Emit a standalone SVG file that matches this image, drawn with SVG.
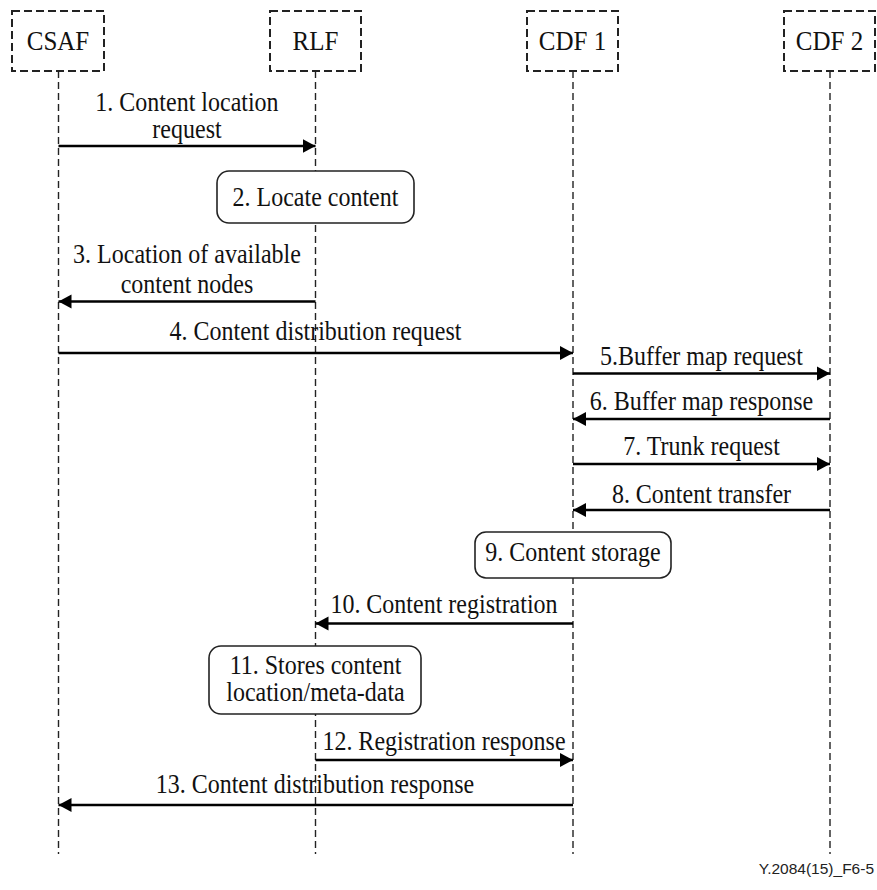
<svg xmlns="http://www.w3.org/2000/svg" width="877" height="890" viewBox="0 0 877 890">
  <style>
    .hdr { fill: #fff; stroke: #222; stroke-width: 2; stroke-dasharray: 8 4; }
    .life { stroke: #222; stroke-width: 1.4; stroke-dasharray: 7 4; fill: none; }
    .msg { stroke: #000; stroke-width: 2.4; fill: none; }
    .act { fill: #fff; stroke: #222; stroke-width: 1.6; }
    text { font-family: "Liberation Serif", "Times New Roman", serif; font-size: 24px; fill: #111; text-anchor: middle; }
    .name { font-size: 25px; }
    .foot { font-family: "Liberation Sans", Arial, sans-serif; font-size: 15.5px; text-anchor: end; fill: #222; }
  </style>
  <defs>
    <marker id="arrow" markerUnits="userSpaceOnUse" markerWidth="14" markerHeight="16" viewBox="0 0 14 16" refX="13" refY="8" orient="auto">
      <path d="M0,1 L13,8 L0,15 Z" fill="#000"/>
    </marker>
  </defs>

  <!-- lifelines -->
  <g id="lifelines">
    <line class="life" x1="58.5" y1="71" x2="58.5" y2="854"/>
    <line class="life" x1="315.5" y1="71" x2="315.5" y2="854"/>
    <line class="life" x1="573" y1="71" x2="573" y2="854"/>
    <line class="life" x1="830" y1="71" x2="830" y2="854"/>
  </g>

  <!-- participants -->
  <g id="csaf">
    <rect class="hdr" x="12" y="11" width="92" height="60"/>
    <text class="name" x="58" y="0" transform="translate(0,50) scale(1,1.06)">CSAF</text>
  </g>
  <g id="rlf">
    <rect class="hdr" x="270" y="11" width="91" height="60"/>
    <text class="name" x="315.5" y="0" transform="translate(0,50) scale(1,1.06)">RLF</text>
  </g>
  <g id="cdf1">
    <rect class="hdr" x="527" y="11" width="91" height="60"/>
    <text class="name" x="572.5" y="0" transform="translate(0,50) scale(1,1.06)">CDF 1</text>
  </g>
  <g id="cdf2">
    <rect class="hdr" x="784" y="11" width="91" height="60"/>
    <text class="name" x="829.5" y="0" transform="translate(0,50) scale(1,1.06)">CDF 2</text>
  </g>

  <!-- local actions -->
  <g id="locate">
    <rect class="act" x="217" y="171" width="197" height="52" rx="12"/>
    <text x="315.5" y="0" transform="translate(0,206) scale(1,1.1)">2. Locate content</text>
  </g>
  <g id="storage">
    <rect class="act" x="475" y="532" width="196" height="46" rx="11"/>
    <text x="573" y="0" transform="translate(0,561) scale(1,1.1)">9. Content storage</text>
  </g>
  <g id="stores">
    <rect class="act" x="209" y="646" width="212" height="68" rx="12"/>
    <text x="315.5" y="0" transform="translate(0,674) scale(1,1.1)">11. Stores content</text>
    <text x="315.5" y="0" transform="translate(0,701) scale(1,1.1)">location/meta-data</text>
  </g>

  <!-- messages -->
  <g id="connectors">
    <line class="msg" x1="58.5" y1="146" x2="315.5" y2="146" marker-end="url(#arrow)"/>
    <line class="msg" x1="315.5" y1="301.5" x2="58.5" y2="301.5" marker-end="url(#arrow)"/>
    <line class="msg" x1="58.5" y1="353" x2="573" y2="353" marker-end="url(#arrow)"/>
    <line class="msg" x1="573" y1="373.5" x2="830" y2="373.5" marker-end="url(#arrow)"/>
    <line class="msg" x1="830" y1="419" x2="573" y2="419" marker-end="url(#arrow)"/>
    <line class="msg" x1="573" y1="464" x2="830" y2="464" marker-end="url(#arrow)"/>
    <line class="msg" x1="830" y1="510" x2="573" y2="510" marker-end="url(#arrow)"/>
    <line class="msg" x1="573" y1="623.5" x2="315.5" y2="623.5" marker-end="url(#arrow)"/>
    <line class="msg" x1="315.5" y1="760" x2="573" y2="760" marker-end="url(#arrow)"/>
    <line class="msg" x1="573" y1="805" x2="58.5" y2="805" marker-end="url(#arrow)"/>
  </g>

  <!-- message labels -->
  <g id="labels">
    <text x="187" y="0" transform="translate(0,111) scale(1,1.1)">1. Content location</text>
    <text x="187" y="0" transform="translate(0,138) scale(1,1.1)">request</text>
    <text x="187" y="0" transform="translate(0,263) scale(1,1.1)">3. Location of available</text>
    <text x="187" y="0" transform="translate(0,293) scale(1,1.1)">content nodes</text>
    <text x="315.5" y="0" transform="translate(0,340) scale(1,1.1)">4. Content distribution request</text>
    <text x="701.5" y="0" transform="translate(0,365) scale(1,1.1)">5.Buffer map request</text>
    <text x="701.5" y="0" transform="translate(0,410) scale(1,1.1)">6. Buffer map response</text>
    <text x="701.5" y="0" transform="translate(0,455) scale(1,1.1)">7. Trunk request</text>
    <text x="701.5" y="0" transform="translate(0,503) scale(1,1.1)">8. Content transfer</text>
    <text x="444" y="0" transform="translate(0,613) scale(1,1.1)">10. Content registration</text>
    <text x="444" y="0" transform="translate(0,750) scale(1,1.1)">12. Registration response</text>
    <text x="315" y="0" transform="translate(0,793) scale(1,1.1)">13. Content distribution response</text>
  </g>

  <text class="foot" x="874" y="874">Y.2084(15)_F6-5</text>
</svg>
